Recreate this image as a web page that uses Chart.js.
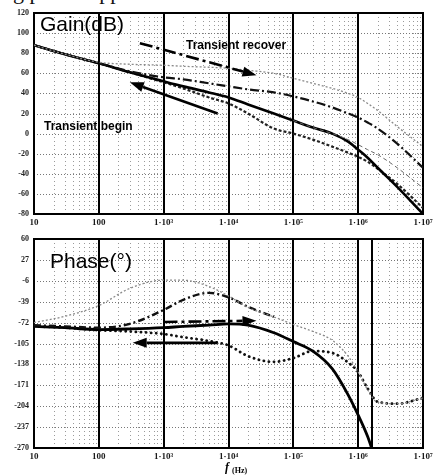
<!DOCTYPE html>
<html>
<head>
<meta charset="utf-8">
<script src="https://cdn.jsdelivr.net/npm/chart.js@4.4.1/dist/chart.umd.min.js"></script>
<style>
    html, body { margin: 0; padding: 0; background: #fff; }
    body { width: 433px; height: 476px; position: relative; overflow: hidden; }
    .cut { position: absolute; left: -4px; top: -21px; font: 22px "Liberation Serif", serif; color: #111; white-space: nowrap; }
    #gain-box { position: absolute; left: 0; top: 0; width: 433px; height: 232px; }
    #phase-box { position: absolute; left: 0; top: 232px; width: 433px; height: 244px; }
</style>
</head>
<body>
<div class="cut">ing plot is applied</div>
<div id="gain-box"><canvas id="gain-chart"></canvas></div>
<div id="phase-box"><canvas id="phase-chart"></canvas></div>
<script>
// frequency grid shared by all curves (Hz)
const freqs = [10, 30, 100, 300, 1e3, 2e3, 5e3, 1e4, 2e4, 5e4, 1e5, 2e5, 4e5, 7e5, 1e6, 1.4e6, 2e6, 4e6, 1e7];
const freqTicks = [10, 100, 1e3, 1e4, 1e5, 1e6, 1e7];
const freqLabels = ['10', '100', '1·10³', '1·10⁴', '1·10⁵', '1·10⁶', '1·10⁷'];

// gain (dB)
const gainTicks = [-80, -60, -40, -20, 0, 20, 40, 60, 80, 100, 120];
const gainGray = [88, 79, 71, 69, 68, 67, 66, 65, 63, 60, 55, 50, 45, 40, 36, 30, 23, 7, -13];
const gainDashDot = [88, 79, 70, 62, 56, 54, 50, 47, 44, 41, 37, 32, 26, 20, 16, 11, 5, -10, -34];
const gainThin = [null, null, null, null, null, null, null, null, null, null, 13, 6, 0, -6, -11, -16, -21, -34, -54];
const gainSolid = [88, 79, 70, 61, 52, 47, 41, 36, 29, 20, 13, 6, 0, -8, -16, -24, -34, -53, -80];
const gainDotted = [88, 79, 70, 61, 51, 45, 36, 30, 20, 5, 0, -6, -13, -19, -23, -28, -35, -50, -74];

// phase (deg)
const phaseTicks = [-270, -237, -204, -171, -138, -105, -72, -39, -6, 27, 60];
const phaseGray = [-72, -62, -45, -18, -5, -5, -15, -30, -48, -63, -75, -86, -100, -125, -150, -178, -198, -200, -191];
const phaseDashDot = [-76, -78, -80, -74, -52, -36, -25, -32, -47, -63, null, null, null, null, null, null, null, null, null];
const phaseSolid = [-78, -80, -83, -82, -80, -78, -76, -74, -76, -88, -102, -117, -145, -186, -218, -252, -300, null, null];
const phaseDotted = [-78, -80, -84, -86, -90, -95, -101, -108, -125, -134, -128, -117, -120, -135, -150, -176, -197, -200, -191];
const phaseMarks = [1.65e6];

const pts = (ys) => freqs.map((f, i) => ({ x: f, y: ys[i] }));

function seg(ctx, x0, y0, x1, y1) {
    ctx.beginPath(); ctx.moveTo(x0, y0); ctx.lineTo(x1, y1); ctx.stroke();
}

function arrow(ctx, x0, y0, x1, y1, dash) {
    const ang = Math.atan2(y1 - y0, x1 - x0);
    const head = 14, half = 5;
    const bx = x1 - head * Math.cos(ang), by = y1 - head * Math.sin(ang);
    ctx.setLineDash(dash);
    ctx.lineWidth = 2.6;
    seg(ctx, x0, y0, bx, by);
    ctx.setLineDash([]);
    ctx.beginPath();
    ctx.moveTo(x1, y1);
    ctx.lineTo(bx + half * Math.sin(ang), by - half * Math.cos(ang));
    ctx.lineTo(bx - half * Math.sin(ang), by + half * Math.cos(ang));
    ctx.closePath();
    ctx.fill();
}

const bodeGrid = {
    id: 'bodeGrid',
    beforeDatasetsDraw(chart, args, opts) {
        const { ctx, chartArea: a, scales: { x, y } } = chart;
        ctx.save();
        ctx.lineWidth = 1;
        ctx.strokeStyle = '#9a9a9a';
        ctx.setLineDash([1, 3]);
        for (let d = 10; d < 1e7; d *= 10) {
            for (let m = 2; m < 10; m++) {
                const px = Math.round(x.getPixelForValue(m * d)) + 0.5;
                seg(ctx, px, a.top, px, a.bottom);
            }
        }
        ctx.strokeStyle = '#777';
        ctx.setLineDash([1, 2]);
        opts.ticks.slice(1, -1).forEach(v => {
            const py = Math.round(y.getPixelForValue(v)) + 0.5;
            seg(ctx, a.left, py, a.right, py);
        });
        ctx.setLineDash([]);
        ctx.strokeStyle = '#000';
        ctx.lineWidth = 2;
        freqTicks.slice(1, -1).concat(opts.marks || []).forEach(v => {
            const px = Math.round(x.getPixelForValue(v));
            seg(ctx, px, a.top, px, a.bottom);
        });
        ctx.strokeRect(a.left, a.top, a.width, a.height);
        ctx.restore();
    },
    afterDatasetsDraw(chart, args, opts) {
        const { ctx, scales: { x, y } } = chart;
        ctx.save();
        ctx.fillStyle = '#000';
        ctx.strokeStyle = '#000';
        (opts.arrows || []).forEach(ar => {
            arrow(ctx, x.getPixelForValue(ar.from[0]), y.getPixelForValue(ar.from[1]),
                x.getPixelForValue(ar.to[0]), y.getPixelForValue(ar.to[1]), ar.dash);
        });
        (opts.labels || []).forEach(lb => {
            ctx.font = lb.font;
            ctx.fillText(lb.text, lb.x, lb.y);
        });
        ctx.restore();
    }
};

function axes(yTicks) {
    return {
        x: {
            type: 'logarithmic', min: 10, max: 1e7,
            grid: { display: false, drawTicks: false }, border: { display: false },
            afterBuildTicks: s => { s.ticks = freqTicks.map(v => ({ value: v })); },
            afterFit: s => { s.height = 18; s.paddingLeft = 0; s.paddingRight = 0; },
            ticks: {
                autoSkip: false, maxRotation: 0, padding: 3, color: '#1a1a1a',
                font: { family: 'Liberation Serif', size: 9, weight: 'bold' },
                callback: (v, i) => freqLabels[i]
            }
        },
        y: {
            min: yTicks[0], max: yTicks[yTicks.length - 1],
            grid: { display: false, drawTicks: false }, border: { display: false },
            afterBuildTicks: s => { s.ticks = yTicks.map(v => ({ value: v })); },
            afterFit: s => { s.width = 30; s.paddingTop = 0; s.paddingBottom = 0; },
            ticks: {
                padding: 5, color: '#222',
                font: { family: 'Liberation Serif', size: 8, weight: 'bold' }
            }
        }
    };
}

const lineDefaults = { pointRadius: 0, fill: false, cubicInterpolationMode: 'monotone', spanGaps: false };

new Chart(document.getElementById('gain-chart'), {
    type: 'line',
    data: {
        datasets: [
            { ...lineDefaults, data: pts(gainGray), borderColor: '#8a8a8a', borderWidth: 1.3, borderDash: [2, 2] },
            { ...lineDefaults, data: pts(gainDashDot), borderColor: '#111', borderWidth: 2.2, borderDash: [9, 3, 2, 3] },
            { ...lineDefaults, data: pts(gainThin), borderColor: '#666', borderWidth: 1, borderDash: [4, 3] },
            { ...lineDefaults, data: pts(gainSolid), borderColor: '#000', borderWidth: 2.6 },
            { ...lineDefaults, data: pts(gainDotted), borderColor: '#222', borderWidth: 2.2, borderDash: [3, 2] }
        ]
    },
    options: {
        responsive: true, maintainAspectRatio: false, animation: false, devicePixelRatio: 1,
        layout: { padding: { left: 4, right: 10, top: 13, bottom: 0 } },
        scales: axes(gainTicks),
        plugins: {
            legend: { display: false }, tooltip: { enabled: false },
            bodeGrid: {
                ticks: gainTicks,
                arrows: [
                    { from: [430, 90], to: [2.7e4, 58], dash: [13, 4, 3, 4] },
                    { from: [6.8e3, 20], to: [300, 51], dash: [] }
                ],
                labels: [
                    { text: 'Gain(dB)', x: 40, y: 31, font: '21px "Liberation Sans", Arial, sans-serif' },
                    { text: 'Transient recover', x: 186, y: 49, font: 'bold 12px "Liberation Sans", Arial, sans-serif' },
                    { text: 'Transient begin', x: 44, y: 130, font: 'bold 12px "Liberation Sans", Arial, sans-serif' }
                ]
            }
        }
    },
    plugins: [bodeGrid]
});

new Chart(document.getElementById('phase-chart'), {
    type: 'line',
    data: {
        datasets: [
            { ...lineDefaults, data: pts(phaseGray), borderColor: '#8a8a8a', borderWidth: 1.3, borderDash: [2, 2] },
            { ...lineDefaults, data: pts(phaseDashDot), borderColor: '#111', borderWidth: 2.4, borderDash: [7, 3, 2, 3] },
            { ...lineDefaults, data: pts(phaseSolid), borderColor: '#000', borderWidth: 2.8 },
            { ...lineDefaults, data: pts(phaseDotted), borderColor: '#111', borderWidth: 2.8, borderDash: [0.1, 5], borderCapStyle: 'round' }
        ]
    },
    options: {
        responsive: true, maintainAspectRatio: false, animation: false, devicePixelRatio: 1,
        layout: { padding: { left: 4, right: 10, top: 7, bottom: 10 } },
        scales: axes(phaseTicks),
        plugins: {
            legend: { display: false }, tooltip: { enabled: false },
            bodeGrid: {
                ticks: phaseTicks,
                marks: phaseMarks,
                arrows: [
                    { from: [1030, -71], to: [2.7e4, -69], dash: [13, 4, 3, 4] },
                    { from: [6.8e3, -104], to: [333, -104], dash: [] }
                ],
                labels: [
                    { text: 'Phase(°)', x: 50, y: 36, font: '21px "Liberation Sans", Arial, sans-serif' },
                    { text: 'f', x: 225, y: 239, font: 'italic bold 12px "Liberation Serif", serif' },
                    { text: '(Hz)', x: 232, y: 241, font: 'bold 8px "Liberation Serif", serif' }
                ]
            }
        }
    },
    plugins: [bodeGrid]
});
</script>
</body>
</html>
